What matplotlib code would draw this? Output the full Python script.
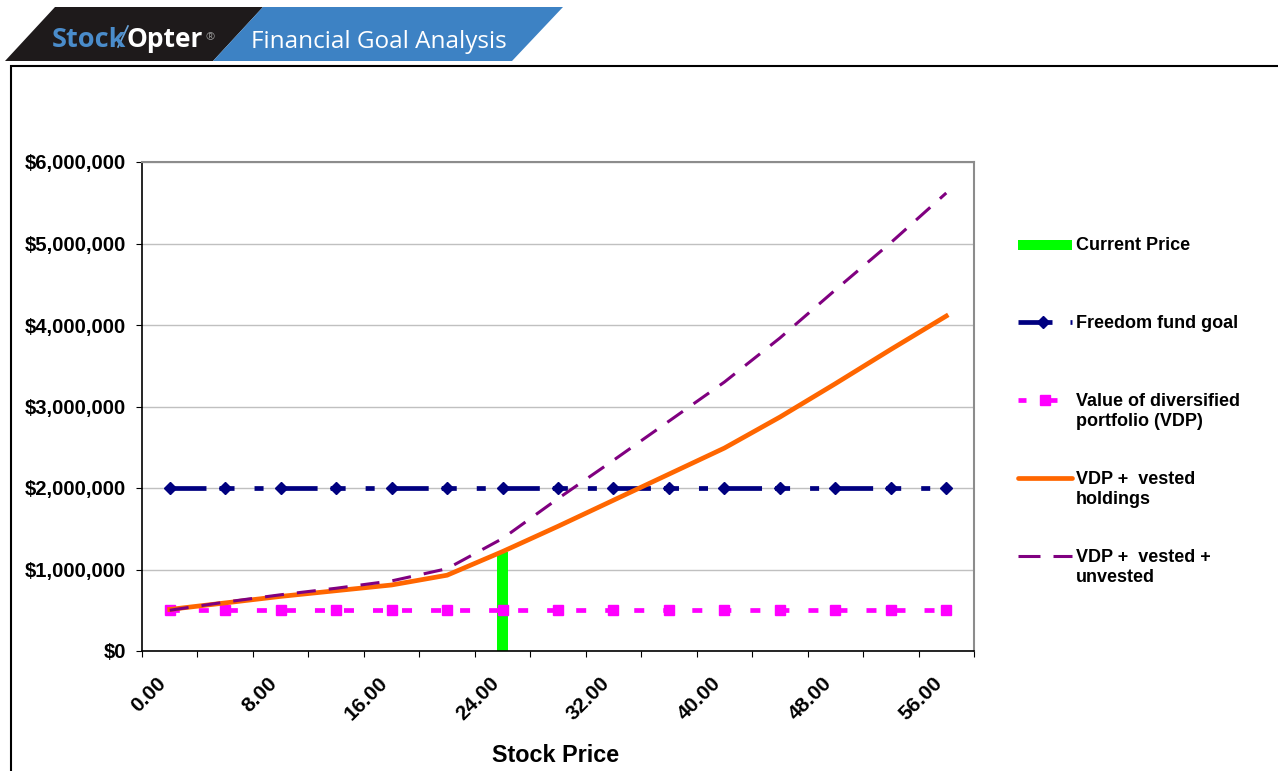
"""
StockOpter financial goal analysis chart.
"""
import numpy as np
import matplotlib
matplotlib.use("Agg")
import matplotlib.pyplot as plt
from matplotlib.lines import Line2D
from matplotlib.patches import Polygon, Rectangle

plt.rcParams['font.family'] = ['Liberation Sans', 'DejaVu Sans']
plt.rcParams['lines.scale_dashes'] = False

# Category axis (stock price) and series values
stock_prices = [0.0, 4.0, 8.0, 12.0, 16.0, 20.0, 24.0, 28.0,
                32.0, 36.0, 40.0, 44.0, 48.0, 52.0, 56.0]
freedom_goal = [2000000, 2000000, 2000000, 2000000, 2000000, 2000000, 2000000, 2000000,
                2000000, 2000000, 2000000, 2000000, 2000000, 2000000, 2000000]
vdp = [500000, 500000, 500000, 500000, 500000, 500000, 500000, 500000,
       500000, 500000, 500000, 500000, 500000, 500000, 500000]
vdp_vested = [510000, 590000, 670000, 740000, 810000, 930000, 1220000, 1530000,
              1850000, 2170000, 2490000, 2870000, 3280000, 3700000, 4110000]
vdp_vested_unvested = [500000, 600000, 690000, 770000, 860000, 1010000, 1380000, 1870000,
                       2340000, 2820000, 3300000, 3840000, 4430000, 5010000, 5620000]
current_price = 24.0

legend_labels = ["Current Price", "Freedom fund goal",
                 "Value of diversified\nportfolio (VDP)",
                 "VDP +  vested\nholdings", "VDP +  vested +\nunvested"]

W, H = 1278, 771


def fx(x):
    return x / W


def fy(y):
    return 1 - y / H


def main():
    fig = plt.figure(figsize=(W / 100, H / 100), dpi=100)

    # banner
    fig.add_artist(Polygon([(fx(5), fy(61)), (fx(55), fy(7)), (fx(263), fy(7)), (fx(213), fy(61))],
                           closed=True, transform=fig.transFigure, color='#1e1a1b', lw=0))
    fig.add_artist(Polygon([(fx(213), fy(61)), (fx(263), fy(7)), (fx(563), fy(7)), (fx(512), fy(61))],
                           closed=True, transform=fig.transFigure, color='#3d82c4', lw=0))
    fig.text(fx(52), fy(47), "Stock", color='#4a8ccb', fontsize=19.5, fontweight='bold',
             family='Open Sans', va='baseline')
    fig.add_artist(Line2D([fx(118), fx(128)], [fy(47), fy(26)], transform=fig.transFigure,
                          color='#6aa3d8', lw=1.2))
    fig.text(fx(127), fy(47), "Opter", color='white', fontsize=19, fontweight='bold',
             family='Open Sans', va='baseline')
    fig.text(fx(206), fy(40), "\u00ae", color='#999999', fontsize=8, family='Open Sans',
             va='baseline')
    fig.text(fx(251), fy(48), "Financial Goal Analysis", color='white', fontsize=17.5,
             family='Open Sans', va='baseline')

    # chart area frame
    fig.add_artist(Rectangle((fx(11), fy(800)), fx(1300), fy(66) - fy(800), fill=False,
                             edgecolor='black', lw=1.5, transform=fig.transFigure))

    ax = fig.add_axes([fx(142), fy(651), fx(974) - fx(142), fy(162) - fy(651)])
    x = np.arange(len(stock_prices))

    cur_idx = stock_prices.index(current_price)
    ax.bar(cur_idx, vdp_vested[cur_idx], width=0.2, color='#00ff00', zorder=2)

    ax.plot(x, freedom_goal, color='#000080', lw=3.4, marker='D', ms=6.1,
            linestyle=(0, [25.9, 9.4, 10.8, 14.4, 6.5, 13.0]), dash_capstyle='butt', zorder=3)
    ax.plot(x, vdp, color='#ff00ff', lw=3.4, marker='s', ms=7.9,
            linestyle=(0.5, [7.2, 13.7]), dash_capstyle='butt', zorder=4)
    ax.plot(x, vdp_vested, color='#ff6600', lw=3.4, solid_joinstyle='round', zorder=5)
    ax.plot(x, vdp_vested_unvested, color='#800080', lw=2.2, linestyle=(0, [13.7, 9.4]),
            dash_capstyle='butt', zorder=6)

    ax.set_xlim(-0.5, len(stock_prices) - 0.5)
    ax.set_ylim(0, 6000000)
    ax.set_yticks(np.arange(0, 6000001, 1000000))
    ax.set_yticklabels([f"${v:,.0f}" for v in np.arange(0, 6000001, 1000000)],
                       fontsize=14.6, fontweight='bold')
    ax.yaxis.grid(True, color='#c0c0c0', lw=1, zorder=0)
    ax.set_axisbelow(True)

    ax.set_xticks(np.arange(-0.5, len(stock_prices), 1))
    ax.set_xticklabels([])
    ax.set_xticks(x[::2], minor=True)
    ax.set_xticklabels([f"{p:.2f}" for p in stock_prices[::2]], minor=True, rotation=45,
                       ha='right', fontsize=15, fontweight='bold')
    ax.tick_params(axis='x', which='minor', length=0, pad=16)
    ax.tick_params(axis='x', which='major', length=4.3, direction='out')
    ax.tick_params(axis='y', length=4.3, direction='out', pad=7)
    fig.text(fx(556), fy(762), "Stock Price", fontsize=16.8, fontweight='bold',
             ha='center', va='baseline')

    for side in ['top', 'right']:
        ax.spines[side].set_color('#8c8c8c')
        ax.spines[side].set_linewidth(1.5)
    for side in ['left', 'bottom']:
        ax.spines[side].set_color('black')
        ax.spines[side].set_linewidth(1.2)

    # legend drawn by hand to match the original layout
    tf = fig.transFigure
    fig.add_artist(Line2D([fx(1018), fx(1072)], [fy(245), fy(245)], transform=tf,
                          color='#00ff00', lw=7.2, solid_capstyle='butt'))
    fig.add_artist(Line2D([fx(1018), fx(1052)], [fy(322), fy(322)], transform=tf,
                          color='#000080', lw=3.4, solid_capstyle='butt'))
    fig.add_artist(Line2D([fx(1070), fx(1072)], [fy(322), fy(322)], transform=tf,
                          color='#000080', lw=3.4, solid_capstyle='butt'))
    fig.add_artist(Line2D([fx(1043)], [fy(322)], transform=tf, color='#000080',
                          marker='D', ms=6.1, lw=0))
    fig.add_artist(Line2D([fx(1018), fx(1026)], [fy(400), fy(400)], transform=tf,
                          color='#ff00ff', lw=3.4, solid_capstyle='butt'))
    fig.add_artist(Line2D([fx(1040), fx(1057)], [fy(400), fy(400)], transform=tf,
                          color='#ff00ff', lw=3.4, solid_capstyle='butt'))
    fig.add_artist(Line2D([fx(1045)], [fy(400)], transform=tf, color='#ff00ff',
                          marker='s', ms=7.9, lw=0))
    fig.add_artist(Line2D([fx(1018), fx(1072)], [fy(478), fy(478)], transform=tf,
                          color='#ff6600', lw=3.4, solid_capstyle='round'))
    fig.add_artist(Line2D([fx(1018), fx(1040)], [fy(556), fy(556)], transform=tf,
                          color='#800080', lw=2.2, solid_capstyle='butt'))
    fig.add_artist(Line2D([fx(1053), fx(1072)], [fy(556), fy(556)], transform=tf,
                          color='#800080', lw=2.2, solid_capstyle='butt'))
    for label, yy in zip(legend_labels, [244, 322, 400, 478, 556]):
        fig.text(fx(1076), fy(yy - 7), label, fontsize=13, fontweight='bold', va='top',
                 ha='left', linespacing=1.25, transform=tf)

    fig.savefig("out.png", dpi=100)
    plt.close(fig)


if __name__ == "__main__":
    main()
